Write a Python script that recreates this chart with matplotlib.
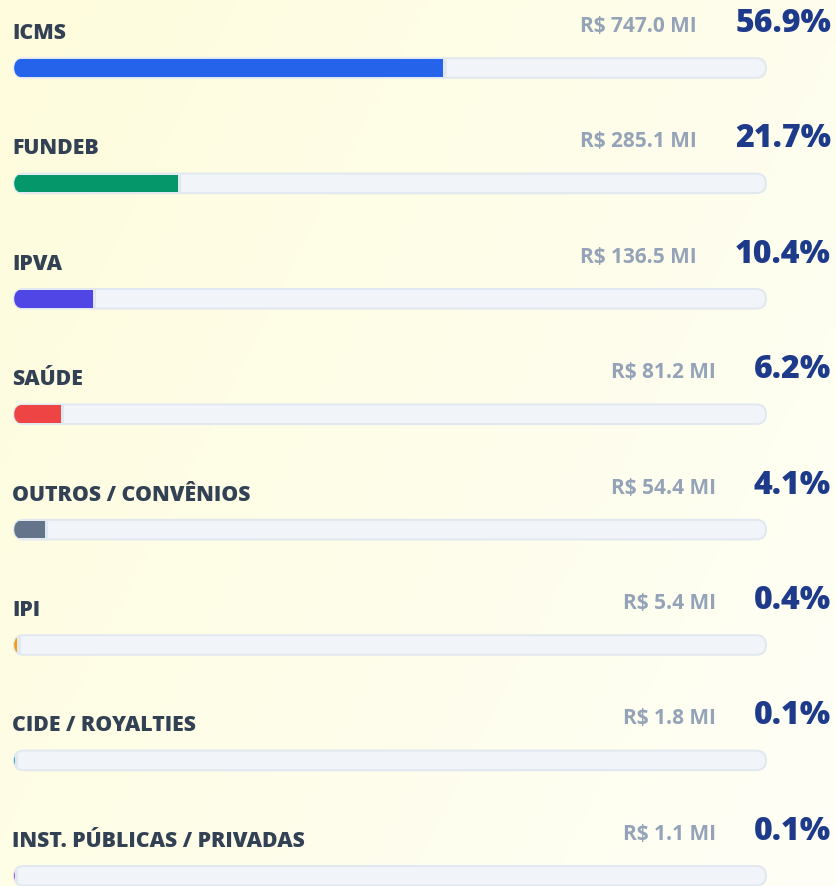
import matplotlib
matplotlib.use("Agg")
import matplotlib.pyplot as plt
import numpy as np
from matplotlib.patches import FancyBboxPatch
from matplotlib import font_manager as fm
import matplotlib.patheffects as pe

categories = ["ICMS", "FUNDEB", "IPVA", "SAÚDE", "OUTROS / CONVÊNIOS", "IPI",
              "CIDE / ROYALTIES", "INST. PÚBLICAS / PRIVADAS"]
values_mi = [747.0, 285.1, 136.5, 81.2, 54.4, 5.4, 1.8, 1.1]
percents = [56.9, 21.7, 10.4, 6.2, 4.1, 0.4, 0.1, 0.1]
bar_colors = ["#2563eb", "#059669", "#4f46e5", "#ef4444", "#64748b", "#f59e0b",
              "#0891b2", "#9333ea"]


def pick_heavy():
    fonts = fm.fontManager.ttflist
    for fam in ["Open Sans", "Noto Sans", "Lato", "Inter", "Roboto"]:
        ws = [f.weight for f in fonts if f.name == fam and f.style == "normal"]
        ws = [w if isinstance(w, int) else 700 for w in ws]
        heavy = [w for w in ws if w >= 800]
        if heavy:
            return fam, min(heavy), False
    return "Open Sans", "bold", True


HEAVY_FAM, HEAVY_W, NEED_STROKE = pick_heavy()

W, H, DPI = 836, 887, 100
fig = plt.figure(figsize=(W / DPI, H / DPI), dpi=DPI)

# background gradient
bg = fig.add_axes([0, 0, 1, 1])
gx = np.linspace(0, 1, 256)
gy = np.linspace(0, 1, 256)
GX, GY = np.meshgrid(gx, gy)
t = np.clip(0.65 * GX + 0.35 * GY, 0, 1)
c0 = np.array([254, 252, 220]) / 255
c1 = np.array([255, 255, 247]) / 255
img = c0[None, None, :] * (1 - t[..., None]) + c1[None, None, :] * t[..., None]
bg.imshow(img, aspect="auto", extent=[0, 1, 1, 0])
bg.axis("off")

# main axes: track from x=13px to 767px
left_px, right_px = 13, 767
row_px = 115.4
first_px = 69
ax = fig.add_axes([left_px / W, 0, (right_px - left_px) / W, 1])
ax.set_xlim(0, 100)
ytop = -first_px / row_px
ybot = (H - first_px) / row_px
ax.set_ylim(ybot, ytop)
ax.axis("off")
ax.patch.set_alpha(0)

px_x = 100 / (right_px - left_px)   # x units per px
px_y = 1 / row_px                   # y units per px
bar_h_px = 21.6
border_px = 2.0
clip_px = 1.2

PT = 72 / DPI  # points per px


def rounded(x0, w, yc, hpx, **kw):
    return FancyBboxPatch((x0, yc - hpx / 2 * px_y), w, hpx * px_y,
                          boxstyle=f"round,pad=0,rounding_size={hpx / 2 * px_x}",
                          mutation_aspect=px_y / px_x, **kw)


def heavy(color, lw):
    if NEED_STROKE:
        return [pe.withStroke(linewidth=lw, foreground=color)]
    return []


for i, (cat, v, p, col) in enumerate(zip(categories, values_mi, percents, bar_colors)):
    outer = rounded(0, 100, i, bar_h_px, facecolor="#e2e8f0", edgecolor="none", zorder=1)
    ax.add_patch(outer)
    ih = bar_h_px - 2 * border_px
    inner = rounded(border_px * px_x, 100 - 2 * border_px * px_x, i, ih,
                    facecolor="#f1f5f9", edgecolor="none", zorder=2)
    ax.add_patch(inner)
    ch = bar_h_px - 2 * clip_px
    clip = rounded(clip_px * px_x, 100 - 2 * clip_px * px_x, i, ch,
                   facecolor="none", edgecolor="none")
    ax.add_patch(clip)
    edge = ax.barh(i, p + 4.5 * px_x, left=0, height=ih * px_y, color="#e2e8f0",
                   zorder=3)
    for b in edge:
        b.set_clip_path(inner)
    fill = ax.barh(i, p + clip_px * px_x, left=0, height=ih * px_y, color=col, zorder=4)
    for b in fill:
        b.set_clip_path(clip)

    ax.annotate(cat, xy=(0, i), xycoords=("axes fraction", "data"),
                xytext=(-0.5 * PT, 30 * PT), textcoords="offset points",
                ha="left", va="baseline", fontsize=15.3, fontweight=HEAVY_W,
                family=HEAVY_FAM, color="#334155",
                path_effects=heavy("#334155", 1.1))
    pt = ax.annotate(f"{p:.1f}%", xy=(1, i), xycoords=("axes fraction", "data"),
                     xytext=(64 * PT, 37 * PT), textcoords="offset points",
                     ha="right", va="baseline", fontsize=23, fontweight=HEAVY_W,
                     family=HEAVY_FAM, color="#1e3a8a",
                     path_effects=heavy("#1e3a8a", 1.5))
    ax.annotate(f"R$ {v:.1f} MI", xy=(0, i), xycoords=(pt, "data"),
                xytext=(-38 * PT, 37 * PT), textcoords="offset points",
                ha="right", va="baseline", fontsize=15, fontweight="bold",
                family="Open Sans", color="#94a3b8")

fig.savefig("out.png", dpi=DPI)
